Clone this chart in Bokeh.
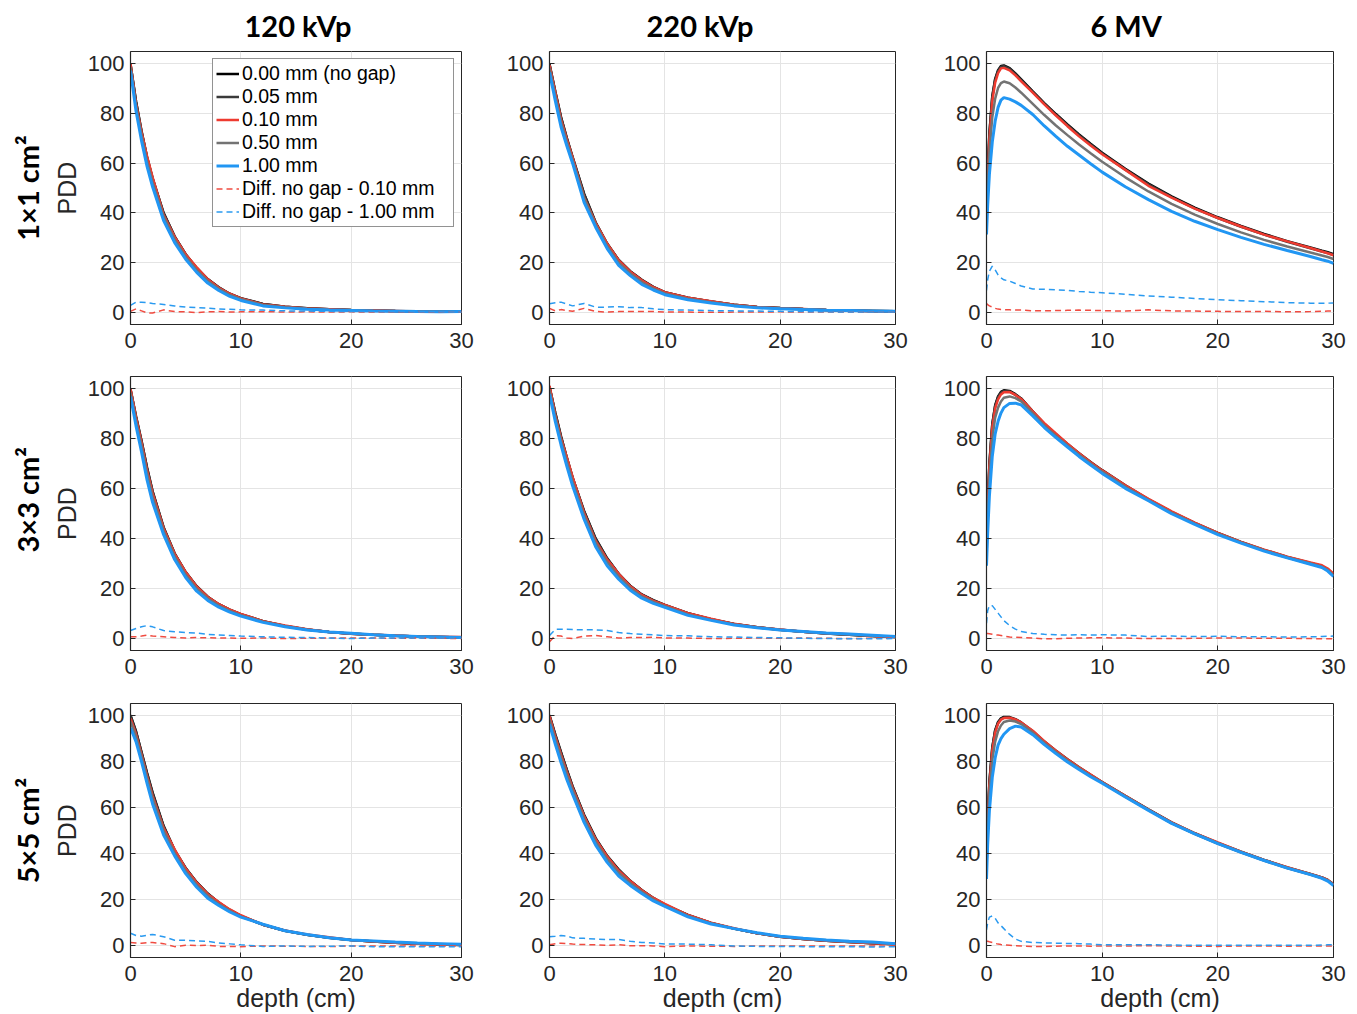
from bokeh.plotting import figure
from bokeh.layouts import column, row
from bokeh.models import Range1d, FixedTicker, Title, Legend, LegendItem
from bokeh.embed import file_html
from bokeh.resources import INLINE

# ---------------- data ----------------
DEPTH_KV = [0, 0.5, 1, 1.5, 2, 3, 4, 5, 6, 7, 8, 9, 10, 12, 14, 16, 18, 20, 22, 24, 26, 28, 30]
DEPTH_MV = [0, 0.1, 0.25, 0.5, 0.75, 1, 1.25, 1.5, 2, 2.5, 3, 4, 5, 6, 7, 8, 9, 10, 12, 14, 16, 18, 20, 22, 24, 26, 28, 29, 29.5, 30]

# 120 kVp, 1x1 cm2
K120_F1_G000 = [100, 85, 73, 62.5, 54, 40, 30.5, 23.3, 17.8, 13.3, 10, 7.4, 5.6, 3.3, 2.2, 1.5, 1.1, 0.8, 0.6, 0.45, 0.35, 0.28, 0.2]
K120_F1_G005 = [99.8, 84.8, 72.8, 62.3, 53.8, 39.8, 30.4, 23.2, 17.7, 13.2, 9.9, 7.3, 5.5, 3.3, 2.2, 1.5, 1.1, 0.8, 0.6, 0.45, 0.35, 0.28, 0.2]
K120_F1_G010 = [100, 83.7, 72.5, 62.8, 54.4, 39.1, 30.3, 23.2, 18, 13.2, 9.8, 7.4, 5.5, 3.1, 2.2, 1.4, 1.1, 0.7, 0.6, 0.45, 0.25, 0.28, 0.2]
K120_F1_G050 = [98.6, 83, 71, 60.6, 52.3, 38.5, 29.3, 22.3, 16.9, 12.5, 9.4, 6.9, 5.2, 2.9, 2.0, 1.3, 0.95, 0.7, 0.5, 0.4, 0.3, 0.23, 0.2]
K120_F1_G100 = [97.3, 81, 69, 58.7, 50.5, 36.9, 28, 21.3, 16, 11.7, 8.7, 6.3, 4.7, 2.5, 1.7, 1.1, 0.8, 0.6, 0.4, 0.35, 0.25, 0.18, 0.2]
K120_F1_D010 = [0.3, 1.3, 0.5, -0.3, -0.4, 0.9, 0.2, 0.1, -0.2, 0.1, 0.2, 0.0, 0.1, 0.2, 0.0, 0.1, 0.0, 0.1, 0.0, 0.0, 0.1, 0.0, 0.0]
K120_F1_D100 = [2.7, 4.0, 4.0, 3.8, 3.5, 3.1, 2.5, 2.0, 1.8, 1.6, 1.3, 1.1, 0.9, 0.8, 0.5, 0.4, 0.3, 0.2, 0.2, 0.1, 0.1, 0.1, 0.0]

# 220 kVp, 1x1 cm2
K220_F1_G000 = [100, 89, 78.6, 70.2, 62.5, 47.7, 36.2, 27.6, 21, 16.5, 13, 10.2, 8.0, 5.8, 4.3, 3.0, 2.1, 1.6, 1.2, 0.85, 0.6, 0.45, 0.3]
K220_F1_G005 = [99.8, 88.8, 78.4, 70, 62.3, 47.5, 36, 27.4, 20.9, 16.4, 12.9, 10.1, 7.9, 5.8, 4.3, 3.0, 2.1, 1.6, 1.2, 0.85, 0.6, 0.45, 0.3]
K220_F1_G010 = [99.5, 88.5, 77.6, 69.6, 62.2, 46.2, 35.9, 27.6, 20.8, 16.3, 12.8, 10.0, 8.0, 5.8, 4.4, 3.0, 2.1, 1.5, 1.2, 0.85, 0.6, 0.35, 0.3]
K220_F1_G050 = [98.3, 87.1, 76.6, 68.6, 61.2, 46, 35.2, 26.6, 19.9, 15.6, 12.1, 9.5, 7.5, 5.4, 4.0, 2.75, 1.9, 1.45, 1.1, 0.8, 0.6, 0.45, 0.3]
K220_F1_G100 = [96.6, 85.2, 74.6, 67, 60, 44.2, 34.2, 25.6, 18.8, 14.7, 11.2, 8.9, 7.0, 5.0, 3.7, 2.5, 1.7, 1.3, 1.0, 0.75, 0.6, 0.45, 0.3]
K220_F1_D010 = [1.5, 0.5, 1.0, 0.6, 0.3, 1.5, 0.3, 0.0, 0.2, 0.2, 0.2, 0.2, 0.0, 0.0, -0.1, 0.0, 0.0, 0.1, 0.0, 0.0, 0.0, 0.1, 0.0]
K220_F1_D100 = [3.4, 3.8, 4.0, 3.2, 2.5, 3.5, 2.0, 2.0, 2.2, 1.8, 1.8, 1.3, 1.0, 0.8, 0.6, 0.5, 0.4, 0.3, 0.2, 0.1, 0.0, 0.0, 0.0]

# 6 MV, 1x1 cm2
MV6_F1_G000 = [40, 56, 72, 87, 94, 97.5, 99.2, 99.4, 98.3, 96.2, 93.8, 88.9, 84.2, 79.8, 75.6, 71.6, 67.8, 64.2, 57.7, 51.8, 46.6, 42.1, 38.2, 34.7, 31.5, 28.6, 26.0, 24.7, 24.1, 23.3]
MV6_F1_G005 = [39.7, 55.6, 71.6, 86.6, 93.7, 97.2, 98.9, 99.1, 98, 95.9, 93.5, 88.6, 83.9, 79.5, 75.3, 71.3, 67.5, 63.9, 57.4, 51.5, 46.3, 41.8, 37.9, 34.4, 31.2, 28.3, 25.7, 24.4, 23.8, 23]
MV6_F1_G010 = [36.6, 53, 69.5, 85, 92.5, 96.3, 98.2, 98.4, 97.4, 95.4, 93, 88.4, 83.7, 79.2, 74.9, 70.8, 67.1, 63.6, 57.3, 50.9, 46.1, 41.7, 37.9, 34.5, 31.2, 28.5, 25.8, 24.4, 23.7, 22.9]
MV6_F1_G050 = [36, 50, 64.5, 78.5, 86, 90.3, 92.3, 92.9, 92.2, 90.5, 88.4, 83.9, 79.4, 75.2, 71.3, 67.5, 64, 60.6, 54.3, 48.6, 43.6, 39.3, 35.5, 32.1, 29.1, 26.4, 24, 22.8, 22.2, 21.4]
MV6_F1_G100 = [31.3, 43, 55.5, 68.5, 77, 82.5, 85.4, 86.4, 85.8, 84.7, 83.3, 79.6, 75, 70.8, 66.8, 63.3, 59.8, 56.4, 50.5, 45.3, 40.6, 36.6, 33.2, 30.1, 27.3, 24.8, 22.4, 21.1, 20.5, 19.6]
MV6_F1_D010 = [3.4, 3.0, 2.5, 2.0, 1.5, 1.2, 1.0, 1.0, 0.9, 0.8, 0.8, 0.5, 0.5, 0.6, 0.7, 0.8, 0.7, 0.6, 0.4, 0.9, 0.5, 0.4, 0.3, 0.2, 0.3, 0.1, 0.2, 0.3, 0.4, 0.4]
MV6_F1_D100 = [8.7, 13, 16.5, 18.5, 17, 15, 13.8, 13, 12.5, 11.5, 10.5, 9.3, 9.2, 9.0, 8.8, 8.3, 8.0, 7.8, 7.2, 6.5, 6.0, 5.5, 5.0, 4.6, 4.2, 3.8, 3.6, 3.6, 3.6, 3.7]

# 120 kVp, 3x3 cm2
K120_F3_G000 = [100, 89, 79.2, 68.5, 59, 44.5, 34, 26.5, 20.8, 16.6, 13.6, 11.4, 9.6, 6.8, 4.8, 3.4, 2.4, 1.75, 1.3, 0.9, 0.6, 0.4, 0.2]
K120_F3_G005 = [99.8, 88.8, 79, 68.3, 58.8, 44.3, 33.8, 26.4, 20.7, 16.5, 13.5, 11.3, 9.5, 6.8, 4.8, 3.4, 2.4, 1.75, 1.3, 0.9, 0.6, 0.4, 0.2]
K120_F3_G010 = [100, 88.5, 78.4, 67.3, 58.2, 44, 33.8, 26.5, 20.6, 16.5, 13.6, 11.4, 9.7, 6.8, 5.0, 3.5, 2.4, 1.75, 1.3, 1.0, 0.6, 0.5, 0.4]
K120_F3_G050 = [98.5, 87.1, 77, 66, 56.8, 43, 32.8, 25.4, 19.8, 15.9, 13, 10.9, 9.2, 6.6, 4.7, 3.3, 2.4, 1.85, 1.3, 0.9, 0.6, 0.4, 0.2]
K120_F3_G100 = [97, 85.2, 74.7, 63.5, 54.5, 41.5, 31.5, 24.3, 18.8, 15.1, 12.4, 10.4, 8.8, 6.3, 4.5, 3.2, 2.4, 1.9, 1.3, 0.9, 0.6, 0.4, 0.2]
K120_F3_D010 = [0.5, 0.5, 0.8, 1.2, 0.8, 0.5, 0.2, 0.0, 0.2, 0.1, 0.0, 0.0, -0.1, 0.0, -0.2, -0.1, 0.0, 0.0, 0.0, -0.1, 0.0, -0.1, -0.2]
K120_F3_D100 = [3.0, 3.8, 4.5, 5.0, 4.5, 3.0, 2.5, 2.2, 2.0, 1.5, 1.2, 1.0, 0.8, 0.5, 0.3, 0.2, 0.0, -0.2, 0.0, 0.0, 0.0, 0.0, 0.0]

# 220 kVp, 3x3 cm2
K220_F3_G000 = [101, 90.5, 81, 72.5, 64.5, 51, 40, 32, 25.8, 21, 17.5, 15.2, 13.3, 10, 7.6, 5.6, 4.3, 3.3, 2.5, 1.8, 1.3, 0.8, 0.4]
K220_F3_G005 = [100.8, 90.3, 80.8, 72.3, 64.3, 50.8, 39.8, 31.8, 25.7, 20.9, 17.4, 15.1, 13.2, 10, 7.6, 5.6, 4.3, 3.3, 2.5, 1.8, 1.3, 0.8, 0.4]
K220_F3_G010 = [101.3, 89.5, 80.2, 72.5, 64.7, 50.2, 39, 31.5, 25.8, 20.8, 17.3, 14.9, 13.3, 10, 7.8, 5.7, 4.3, 3.4, 2.5, 1.9, 1.5, 0.9, 0.4]
K220_F3_G050 = [99.5, 88.7, 79.2, 70.8, 62.8, 49.3, 38.3, 30.5, 24.7, 20.1, 16.7, 14.5, 12.8, 9.5, 7.3, 5.4, 4.2, 3.25, 2.55, 1.9, 1.45, 0.95, 0.5]
K220_F3_G100 = [98, 87, 77.5, 69, 61.1, 47.7, 36.7, 29, 23.6, 19.2, 16, 13.9, 12.3, 9.1, 7.1, 5.2, 4.1, 3.2, 2.6, 2.0, 1.6, 1.1, 0.6]
K220_F3_D010 = [-1.5, 1.0, 0.8, 0.0, -0.2, 0.8, 1.0, 0.5, 0.0, 0.2, 0.2, 0.3, 0.0, 0.0, -0.2, -0.1, 0.0, -0.1, 0.0, -0.1, -0.2, -0.1, 0.0]
K220_F3_D100 = [1.0, 3.5, 3.5, 3.5, 3.4, 3.3, 3.3, 3.0, 2.2, 1.8, 1.5, 1.3, 1.0, 0.9, 0.5, 0.4, 0.2, 0.1, -0.1, -0.2, -0.3, -0.3, -0.2]

# 6 MV, 3x3 cm2
MV6_F3_G000 = [35, 53, 70, 86, 93.5, 97, 98.8, 99.5, 99.2, 97.9, 96.2, 91, 86, 81.8, 77.9, 74.2, 70.7, 67.4, 61.3, 55.7, 50.7, 46.2, 42.2, 38.6, 35.4, 32.6, 30.1, 28.9, 27.6, 25.5]
MV6_F3_G005 = [34.7, 52.7, 69.7, 85.7, 93.2, 96.7, 98.5, 99.2, 98.9, 97.6, 95.9, 90.7, 85.7, 81.5, 77.6, 73.9, 70.4, 67.1, 61, 55.4, 50.4, 45.9, 41.9, 38.3, 35.1, 32.3, 29.8, 28.6, 27.3, 25.2]
MV6_F3_G010 = [33.2, 51.2, 68.3, 84.5, 92.2, 95.8, 97.8, 98.7, 98.8, 97.6, 96, 91, 86.3, 82.1, 78, 74.2, 70.6, 67.3, 61.3, 55.9, 50.9, 46.3, 42.2, 38.6, 35.5, 32.7, 30.3, 29.2, 27.9, 25.8]
MV6_F3_G050 = [32, 48, 64, 80, 88.5, 92.5, 95, 96.5, 97, 96.3, 95, 90.2, 85.3, 81.1, 77.3, 73.6, 70.1, 66.8, 60.7, 55.4, 50.3, 45.9, 41.9, 38.4, 35.2, 32.4, 29.9, 28.6, 27.3, 25.1]
MV6_F3_G100 = [29, 42, 57, 73, 82, 87, 90.3, 92.5, 94.2, 94.3, 93.6, 89.2, 84.5, 80.5, 76.7, 72.9, 69.5, 66.1, 60.1, 55.1, 49.9, 45.6, 41.5, 38.1, 34.9, 32.2, 29.6, 28.3, 26.9, 24.7]
MV6_F3_D010 = [1.8, 1.8, 1.7, 1.5, 1.3, 1.2, 1.0, 0.8, 0.4, 0.3, 0.2, 0.0, -0.3, -0.3, -0.1, 0.0, 0.1, 0.1, 0.0, -0.2, -0.2, -0.1, 0.0, 0.0, -0.1, -0.1, -0.2, -0.3, -0.3, -0.3]
MV6_F3_D100 = [6, 11, 13, 13, 11.5, 10, 8.5, 7, 5, 3.6, 2.6, 1.8, 1.5, 1.3, 1.2, 1.3, 1.2, 1.3, 1.2, 0.6, 0.8, 0.6, 0.7, 0.5, 0.5, 0.4, 0.5, 0.6, 0.7, 0.8]

# 120 kVp, 5x5 cm2
K120_F5_G000 = [100, 93, 84, 75, 66.5, 52, 41.5, 33.8, 27.6, 22.7, 18.8, 15.6, 13.0, 9.2, 6.6, 4.8, 3.5, 2.55, 1.9, 1.4, 1.0, 0.7, 0.4]
K120_F5_G005 = [99.6, 92.7, 83.7, 74.7, 66.2, 51.8, 41.3, 33.6, 27.5, 22.6, 18.7, 15.6, 13.0, 9.2, 6.6, 4.8, 3.5, 2.55, 1.9, 1.4, 1.0, 0.7, 0.4]
K120_F5_G010 = [98.5, 91.7, 82.8, 73.6, 65, 51, 41.8, 33.5, 27.4, 22.4, 19, 15.8, 13.3, 9.2, 6.7, 5.0, 3.8, 2.55, 1.9, 1.4, 1.0, 0.7, 0.4]
K120_F5_G050 = [97.2, 90.7, 81.9, 72.7, 64, 50, 40.2, 32.5, 26.5, 21.7, 18.1, 15.2, 12.7, 9.3, 6.6, 4.9, 3.55, 2.55, 2.0, 1.55, 1.15, 0.85, 0.55]
K120_F5_G100 = [94.5, 88.5, 79.8, 70.4, 61.5, 48, 39, 31.3, 25.4, 20.7, 17.5, 14.7, 12.5, 9.4, 6.6, 5.0, 3.6, 2.55, 2.2, 1.7, 1.3, 1.0, 0.7]
K120_F5_D010 = [1.5, 1.3, 1.2, 1.4, 1.5, 1.0, -0.3, 0.3, 0.2, 0.3, -0.2, -0.2, -0.3, 0.0, -0.1, -0.2, -0.3, 0.0, 0.0, 0.0, 0.0, 0.0, 0.0]
K120_F5_D100 = [5.5, 4.5, 4.2, 4.6, 5.0, 4.0, 2.5, 2.5, 2.2, 2.0, 1.3, 0.9, 0.5, -0.2, 0.0, -0.2, -0.1, 0.0, -0.3, -0.3, -0.3, -0.3, -0.3]

# 220 kVp, 5x5 cm2
K220_F5_G000 = [100, 91.6, 83.9, 76.4, 69.2, 56.8, 46.7, 39, 33.1, 28.2, 24.2, 20.8, 17.9, 13.4, 10, 7.5, 5.5, 4.0, 3.0, 2.3, 1.7, 1.2, 0.7]
K220_F5_G005 = [99.7, 91.4, 83.7, 76.2, 69, 56.6, 46.5, 38.8, 33, 28.1, 24.1, 20.7, 17.8, 13.3, 10, 7.5, 5.5, 4.0, 3.0, 2.3, 1.7, 1.2, 0.7]
K220_F5_G010 = [99.5, 90.6, 82.7, 75.4, 68.4, 56.2, 46.2, 38.7, 32.6, 28.1, 24.1, 20.8, 18.2, 13.4, 10.1, 7.7, 5.5, 4.0, 3.0, 2.3, 1.7, 1.2, 0.7]
K220_F5_G050 = [98, 89.5, 81.7, 74.3, 67.5, 55.2, 45.2, 37.6, 31.7, 27.2, 23.5, 20.2, 17.5, 13, 9.8, 7.5, 5.6, 4.1, 3.15, 2.45, 1.85, 1.45, 0.85]
K220_F5_G100 = [96, 87.4, 79.4, 72.1, 65.7, 53.5, 43.7, 36.2, 30.3, 26.2, 22.7, 19.5, 17.1, 12.6, 9.5, 7.5, 5.7, 4.2, 3.3, 2.6, 2.0, 1.7, 1.0]
K220_F5_D010 = [0.5, 1.0, 1.2, 1.0, 0.8, 0.6, 0.5, 0.3, 0.5, 0.1, 0.1, 0.0, -0.3, 0.0, -0.1, -0.2, 0.0, 0.0, 0.0, 0.0, 0.0, 0.0, 0.0]
K220_F5_D100 = [4.0, 4.2, 4.5, 4.3, 3.5, 3.3, 3.0, 2.8, 2.8, 2.0, 1.5, 1.3, 0.8, 0.8, 0.5, 0.0, -0.2, -0.2, -0.3, -0.3, -0.3, -0.5, -0.3]

# 6 MV, 5x5 cm2
MV6_F5_G000 = [36, 54, 71, 86, 93.5, 97, 98.6, 99.2, 99.1, 98.2, 96.8, 93, 88.5, 84.5, 80.8, 77.4, 74.1, 71, 65, 59.2, 53.5, 48.8, 44.6, 40.8, 37.3, 34, 31.2, 29.7, 28.6, 26.8]
MV6_F5_G005 = [35.7, 53.7, 70.7, 85.7, 93.2, 96.7, 98.3, 98.9, 98.8, 97.9, 96.5, 92.7, 88.2, 84.2, 80.5, 77.1, 73.8, 70.7, 64.7, 58.9, 53.2, 48.5, 44.3, 40.5, 37, 33.7, 30.9, 29.4, 28.3, 26.5]
MV6_F5_G010 = [33.8, 52, 69.2, 84.5, 92.4, 96.2, 98, 98.7, 98.8, 98.1, 96.8, 93.2, 88.7, 84.6, 80.8, 77.4, 74.2, 71, 65, 59.1, 53.5, 48.9, 44.8, 40.8, 37.3, 34.1, 31.2, 29.7, 28.6, 26.8]
MV6_F5_G050 = [33, 50, 66, 80.5, 88.5, 93, 95.5, 97, 97.6, 97.2, 96.1, 92.4, 87.9, 84, 80.3, 76.9, 73.7, 70.8, 64.8, 59, 53.3, 48.7, 44.5, 40.7, 37.2, 33.9, 31.1, 29.5, 28.4, 26.5]
MV6_F5_G100 = [29, 44, 58.5, 73, 81.5, 87, 89.8, 91.7, 94.1, 95.2, 94.8, 91.5, 87.2, 83.3, 79.7, 76.4, 73.3, 70.5, 64.5, 58.7, 53.1, 48.5, 44.3, 40.5, 37, 33.7, 30.9, 29.3, 28.1, 26.2]
MV6_F5_D010 = [2.2, 2.0, 1.8, 1.5, 1.1, 0.8, 0.6, 0.5, 0.3, 0.1, 0.0, -0.2, -0.2, -0.1, 0.0, 0.0, -0.1, 0.0, 0.0, 0.1, 0.0, -0.1, -0.2, 0.0, 0.0, -0.1, 0.0, 0.0, 0.0, 0.0]
MV6_F5_D100 = [7, 10, 12.5, 13, 12, 10, 8.8, 7.5, 5, 3, 2, 1.5, 1.3, 1.2, 1.1, 1.0, 0.8, 0.5, 0.5, 0.5, 0.4, 0.3, 0.3, 0.3, 0.3, 0.3, 0.3, 0.4, 0.5, 0.6]

COL_TITLES = ["120 kVp", "220 kVp", "6 MV"]
ROW_TITLES = ["1×1 cm²", "3×3 cm²", "5×5 cm²"]
SERIES_NAMES = ["0.00 mm (no gap)", "0.05 mm", "0.10 mm", "0.50 mm", "1.00 mm",
                "Diff. no gap - 0.10 mm", "Diff. no gap - 1.00 mm"]
X_TICKS = [0, 10, 20, 30]
Y_TICKS = [0, 20, 40, 60, 80, 100]

PANELS = [
    [(DEPTH_KV, [K120_F1_G000, K120_F1_G005, K120_F1_G010, K120_F1_G050, K120_F1_G100], [K120_F1_D010, K120_F1_D100]),
     (DEPTH_KV, [K220_F1_G000, K220_F1_G005, K220_F1_G010, K220_F1_G050, K220_F1_G100], [K220_F1_D010, K220_F1_D100]),
     (DEPTH_MV, [MV6_F1_G000, MV6_F1_G005, MV6_F1_G010, MV6_F1_G050, MV6_F1_G100], [MV6_F1_D010, MV6_F1_D100])],
    [(DEPTH_KV, [K120_F3_G000, K120_F3_G005, K120_F3_G010, K120_F3_G050, K120_F3_G100], [K120_F3_D010, K120_F3_D100]),
     (DEPTH_KV, [K220_F3_G000, K220_F3_G005, K220_F3_G010, K220_F3_G050, K220_F3_G100], [K220_F3_D010, K220_F3_D100]),
     (DEPTH_MV, [MV6_F3_G000, MV6_F3_G005, MV6_F3_G010, MV6_F3_G050, MV6_F3_G100], [MV6_F3_D010, MV6_F3_D100])],
    [(DEPTH_KV, [K120_F5_G000, K120_F5_G005, K120_F5_G010, K120_F5_G050, K120_F5_G100], [K120_F5_D010, K120_F5_D100]),
     (DEPTH_KV, [K220_F5_G000, K220_F5_G005, K220_F5_G010, K220_F5_G050, K220_F5_G100], [K220_F5_D010, K220_F5_D100]),
     (DEPTH_MV, [MV6_F5_G000, MV6_F5_G005, MV6_F5_G010, MV6_F5_G050, MV6_F5_G100], [MV6_F5_D010, MV6_F5_D100])],
]

# ---------------- styling ----------------
SOLID_COLORS = ["#000000", "#3a3a3a", "#ee3b30", "#737373", "#2196f3"]
SOLID_WIDTHS = [2.5, 2.5, 2.5, 2.5, 3]
DASH_COLORS = ["#f04b40", "#2a9af0"]
AX_COLOR = "#262626"
FONT = "Liberation Sans"
TFONT = "Lato"

COL_W = [501, 436, 420]
BORDER_L = [130, 48, 49]
BORDER_R = [40, 42, 24]
ROW_H = [362, 327, 325]
BORDER_T = [51, 14, 14]
BORDER_B = [38, 39, 57]
TITLE_OFFSET = [114, 97, 104]
ROW_TITLE_ALIGN = ["center", "left", "center"]
ROW_TITLE_OFFSET = [0, 98, 0]


def make_panel(r, c):
    depth, solids, diffs = PANELS[r][c]
    p = figure(width=COL_W[c], height=ROW_H[r], output_backend="svg", toolbar_location=None,
               x_range=Range1d(0, 30), y_range=Range1d(-5, 105), title=None,
               min_border_left=BORDER_L[c], min_border_right=BORDER_R[c],
               min_border_top=BORDER_T[r], min_border_bottom=BORDER_B[r])
    p.background_fill_color = "white"
    p.border_fill_color = "white"
    p.outline_line_color = AX_COLOR
    p.outline_line_width = 1

    xax = p.xaxis[0]
    yax = p.yaxis[0]
    xax.ticker = FixedTicker(ticks=X_TICKS)
    yax.ticker = FixedTicker(ticks=Y_TICKS)
    p.xgrid.ticker = FixedTicker(ticks=X_TICKS)
    p.ygrid.ticker = FixedTicker(ticks=Y_TICKS)
    for g in (p.xgrid, p.ygrid):
        g.grid_line_color = "#e4e4e4"
        g.grid_line_width = 1

    for ax in (xax, yax):
        ax.major_tick_in = 5
        ax.major_tick_out = 0
        ax.minor_tick_line_color = None
        ax.major_tick_line_color = AX_COLOR
        ax.axis_line_color = AX_COLOR
        ax.axis_line_width = 1.2
        ax.major_label_text_font = FONT
        ax.major_label_text_font_size = "22px"
        ax.major_label_text_color = AX_COLOR
        ax.axis_label_text_font = FONT
        ax.axis_label_text_font_size = "25px"
        ax.axis_label_text_font_style = "normal"
        ax.axis_label_text_color = AX_COLOR
    xax.major_label_standoff = 8
    yax.major_label_standoff = 6

    if c == 0:
        yax.axis_label = "PDD"
        yax.axis_label_standoff = 4
    if r == 2:
        xax.axis_label = "depth (cm)"
        xax.axis_label_standoff = 0

    rends = []
    for ys, col, lw in zip(solids, SOLID_COLORS, SOLID_WIDTHS):
        rends.append(p.line(depth, ys, line_color=col, line_width=lw))
    for ys, col in zip(diffs, DASH_COLORS):
        rends.append(p.line(depth, ys, line_color=col, line_width=1.5, line_dash="6 4"))

    if r == 0:
        t = Title(text=COL_TITLES[c], align="left", offset=TITLE_OFFSET[c], vertical_align="top",
                  text_font=TFONT, text_font_size="29px", text_font_style="bold",
                  text_color="black", standoff=14)
        p.add_layout(t, "above")
    if c == 0:
        rt = Title(text=ROW_TITLES[r], align=ROW_TITLE_ALIGN[r], offset=ROW_TITLE_OFFSET[r],
                   text_font=TFONT, text_font_size="29px",
                   text_font_style="bold", text_color="black", standoff=10)
        p.add_layout(rt, "left")

    if r == 0 and c == 0:
        items = [LegendItem(label=n, renderers=[rr]) for n, rr in zip(SERIES_NAMES, rends)]
        leg = Legend(items=items, location="top_right", margin=7, padding=3, spacing=0,
                     glyph_width=23, glyph_height=21, label_height=21, label_width=208,
                     label_standoff=3, label_text_font=FONT, label_text_font_size="19.5px",
                     label_text_line_height=1.0,
                     label_text_color="black", border_line_color=AX_COLOR, border_line_width=1,
                     background_fill_color="white", background_fill_alpha=1.0)
        p.add_layout(leg)
    return p


layout = column(*[row(*[make_panel(r, c) for c in range(3)]) for r in range(3)])
open("out.html", "w").write(file_html(layout, INLINE))
